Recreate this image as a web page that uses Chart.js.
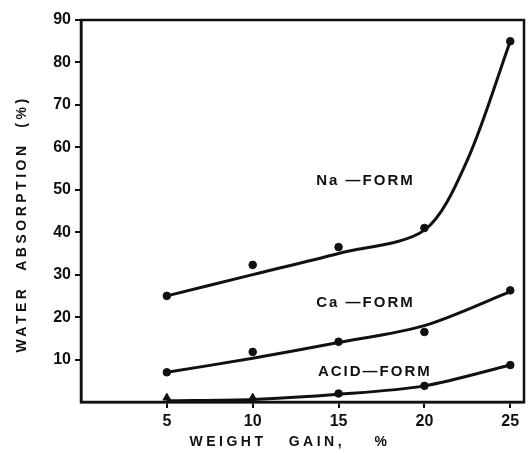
<!DOCTYPE html>
<html>
<head>
<meta charset="utf-8">
<script src="https://cdn.jsdelivr.net/npm/chart.js@4.4.1/dist/chart.umd.min.js"></script>
<style>
  body { margin: 0; background: #fff; }
  canvas { display: block; }
</style>
</head>
<body>
<canvas id="chart" width="530" height="455"></canvas>
<script>
// measured points
const weightGain = [5, 10, 15, 20, 25];
const naPoints = [25, 32.3, 36.5, 41, 85];
const caPoints = [7, 11.8, 14.2, 16.5, 26.3];
const acidX = [15, 20, 25];
const acidPoints = [2, 3.8, 8.7];
const acidTriX = [5, 10];
const acidTriY = [1, 1];

// hand-drawn fitted curves
const naCurveX = [5, 10, 15, 20, 22.5, 25];
const naCurveY = [25, 30, 35, 40.5, 57, 85];
const caCurveY = [7, 10.3, 14, 18, 26];
const acidCurveY = [0.3, 0.6, 1.8, 3.8, 8.7];

const yTicks = [10, 20, 30, 40, 50, 60, 70, 80, 90];
const seriesLabels = ['Na \u2014FORM', 'Ca \u2014FORM', 'ACID\u2014FORM'];
const labelPos = [[13.7, 52], [13.7, 23.3], [13.8, 7]];

const ink = '#111';

function pts(xs, ys) {
    return xs.map((v, i) => ({ x: v, y: ys[i] }));
}

function curve(data) {
    return {
        data: data,
        borderColor: ink,
        borderWidth: 3,
        pointRadius: 0,
        tension: 0.3,
        clip: false
    };
}

function marks(data, style) {
    return {
        data: data,
        showLine: false,
        pointStyle: style || 'circle',
        pointRadius: style === 'triangle' ? 4.5 : 3.8,
        pointBackgroundColor: ink,
        pointBorderColor: ink,
        pointBorderWidth: 1,
        clip: false
    };
}

const frameAndText = {
    id: 'frameAndText',
    afterDraw(chart) {
        const { ctx, chartArea: a, scales: { x, y } } = chart;
        ctx.save();
        ctx.strokeStyle = ink;
        ctx.lineWidth = 2.5;
        ctx.strokeRect(a.left, a.top, a.right - a.left, a.bottom - a.top);

        ctx.fillStyle = ink;
        ctx.textBaseline = 'middle';

        // series labels
        ctx.font = 'bold 15px "Liberation Sans"';
        ctx.textAlign = 'left';
        ctx.letterSpacing = '2px';
        seriesLabels.forEach((t, i) => {
            ctx.fillText(t, x.getPixelForValue(labelPos[i][0]), y.getPixelForValue(labelPos[i][1]));
        });

        // axis titles
        ctx.font = 'bold 14px "Liberation Sans"';
        ctx.letterSpacing = '3.5px';
        ctx.textAlign = 'center';
        ctx.fillText('WEIGHT   GAIN,    %', 290, 442);

        ctx.translate(22, 224);
        ctx.rotate(-Math.PI / 2);
        ctx.fillText('WATER  ABSORPTION  (%)', 0, 0);
        ctx.restore();
    }
};

new Chart(document.getElementById('chart'), {
    type: 'line',
    data: {
        datasets: [
            curve(pts(naCurveX, naCurveY)),
            curve(pts(weightGain, caCurveY)),
            curve(pts(weightGain, acidCurveY)),
            marks(pts(weightGain, naPoints)),
            marks(pts(weightGain, caPoints)),
            marks(pts(acidX, acidPoints)),
            marks(pts(acidTriX, acidTriY), 'triangle')
        ]
    },
    options: {
        responsive: false,
        animation: false,
        layout: { padding: { top: 20, right: 6, left: 0, bottom: 0 } },
        plugins: { legend: { display: false }, tooltip: { enabled: false } },
        scales: {
            x: {
                type: 'linear',
                min: 0,
                max: 25.8,
                afterFit: s => { s.height = 53; },
                afterBuildTicks: s => { s.ticks = weightGain.map(v => ({ value: v })); },
                grid: { drawOnChartArea: false, tickLength: 6, lineWidth: 2, color: ink },
                border: { display: true, width: 2.5, color: ink },
                ticks: { padding: 4, color: ink, font: { family: 'Liberation Sans', size: 16, weight: 'bold' } }
            },
            y: {
                min: 0,
                max: 90,
                afterFit: s => { s.width = 81; },
                afterBuildTicks: s => { s.ticks = yTicks.map(v => ({ value: v })); },
                grid: { drawOnChartArea: false, tickLength: 6, lineWidth: 2, color: ink },
                border: { display: true, width: 2.5, color: ink },
                ticks: { padding: 4, color: ink, font: { family: 'Liberation Sans', size: 16, weight: 'bold' } }
            }
        }
    },
    plugins: [frameAndText]
});
</script>
</body>
</html>
